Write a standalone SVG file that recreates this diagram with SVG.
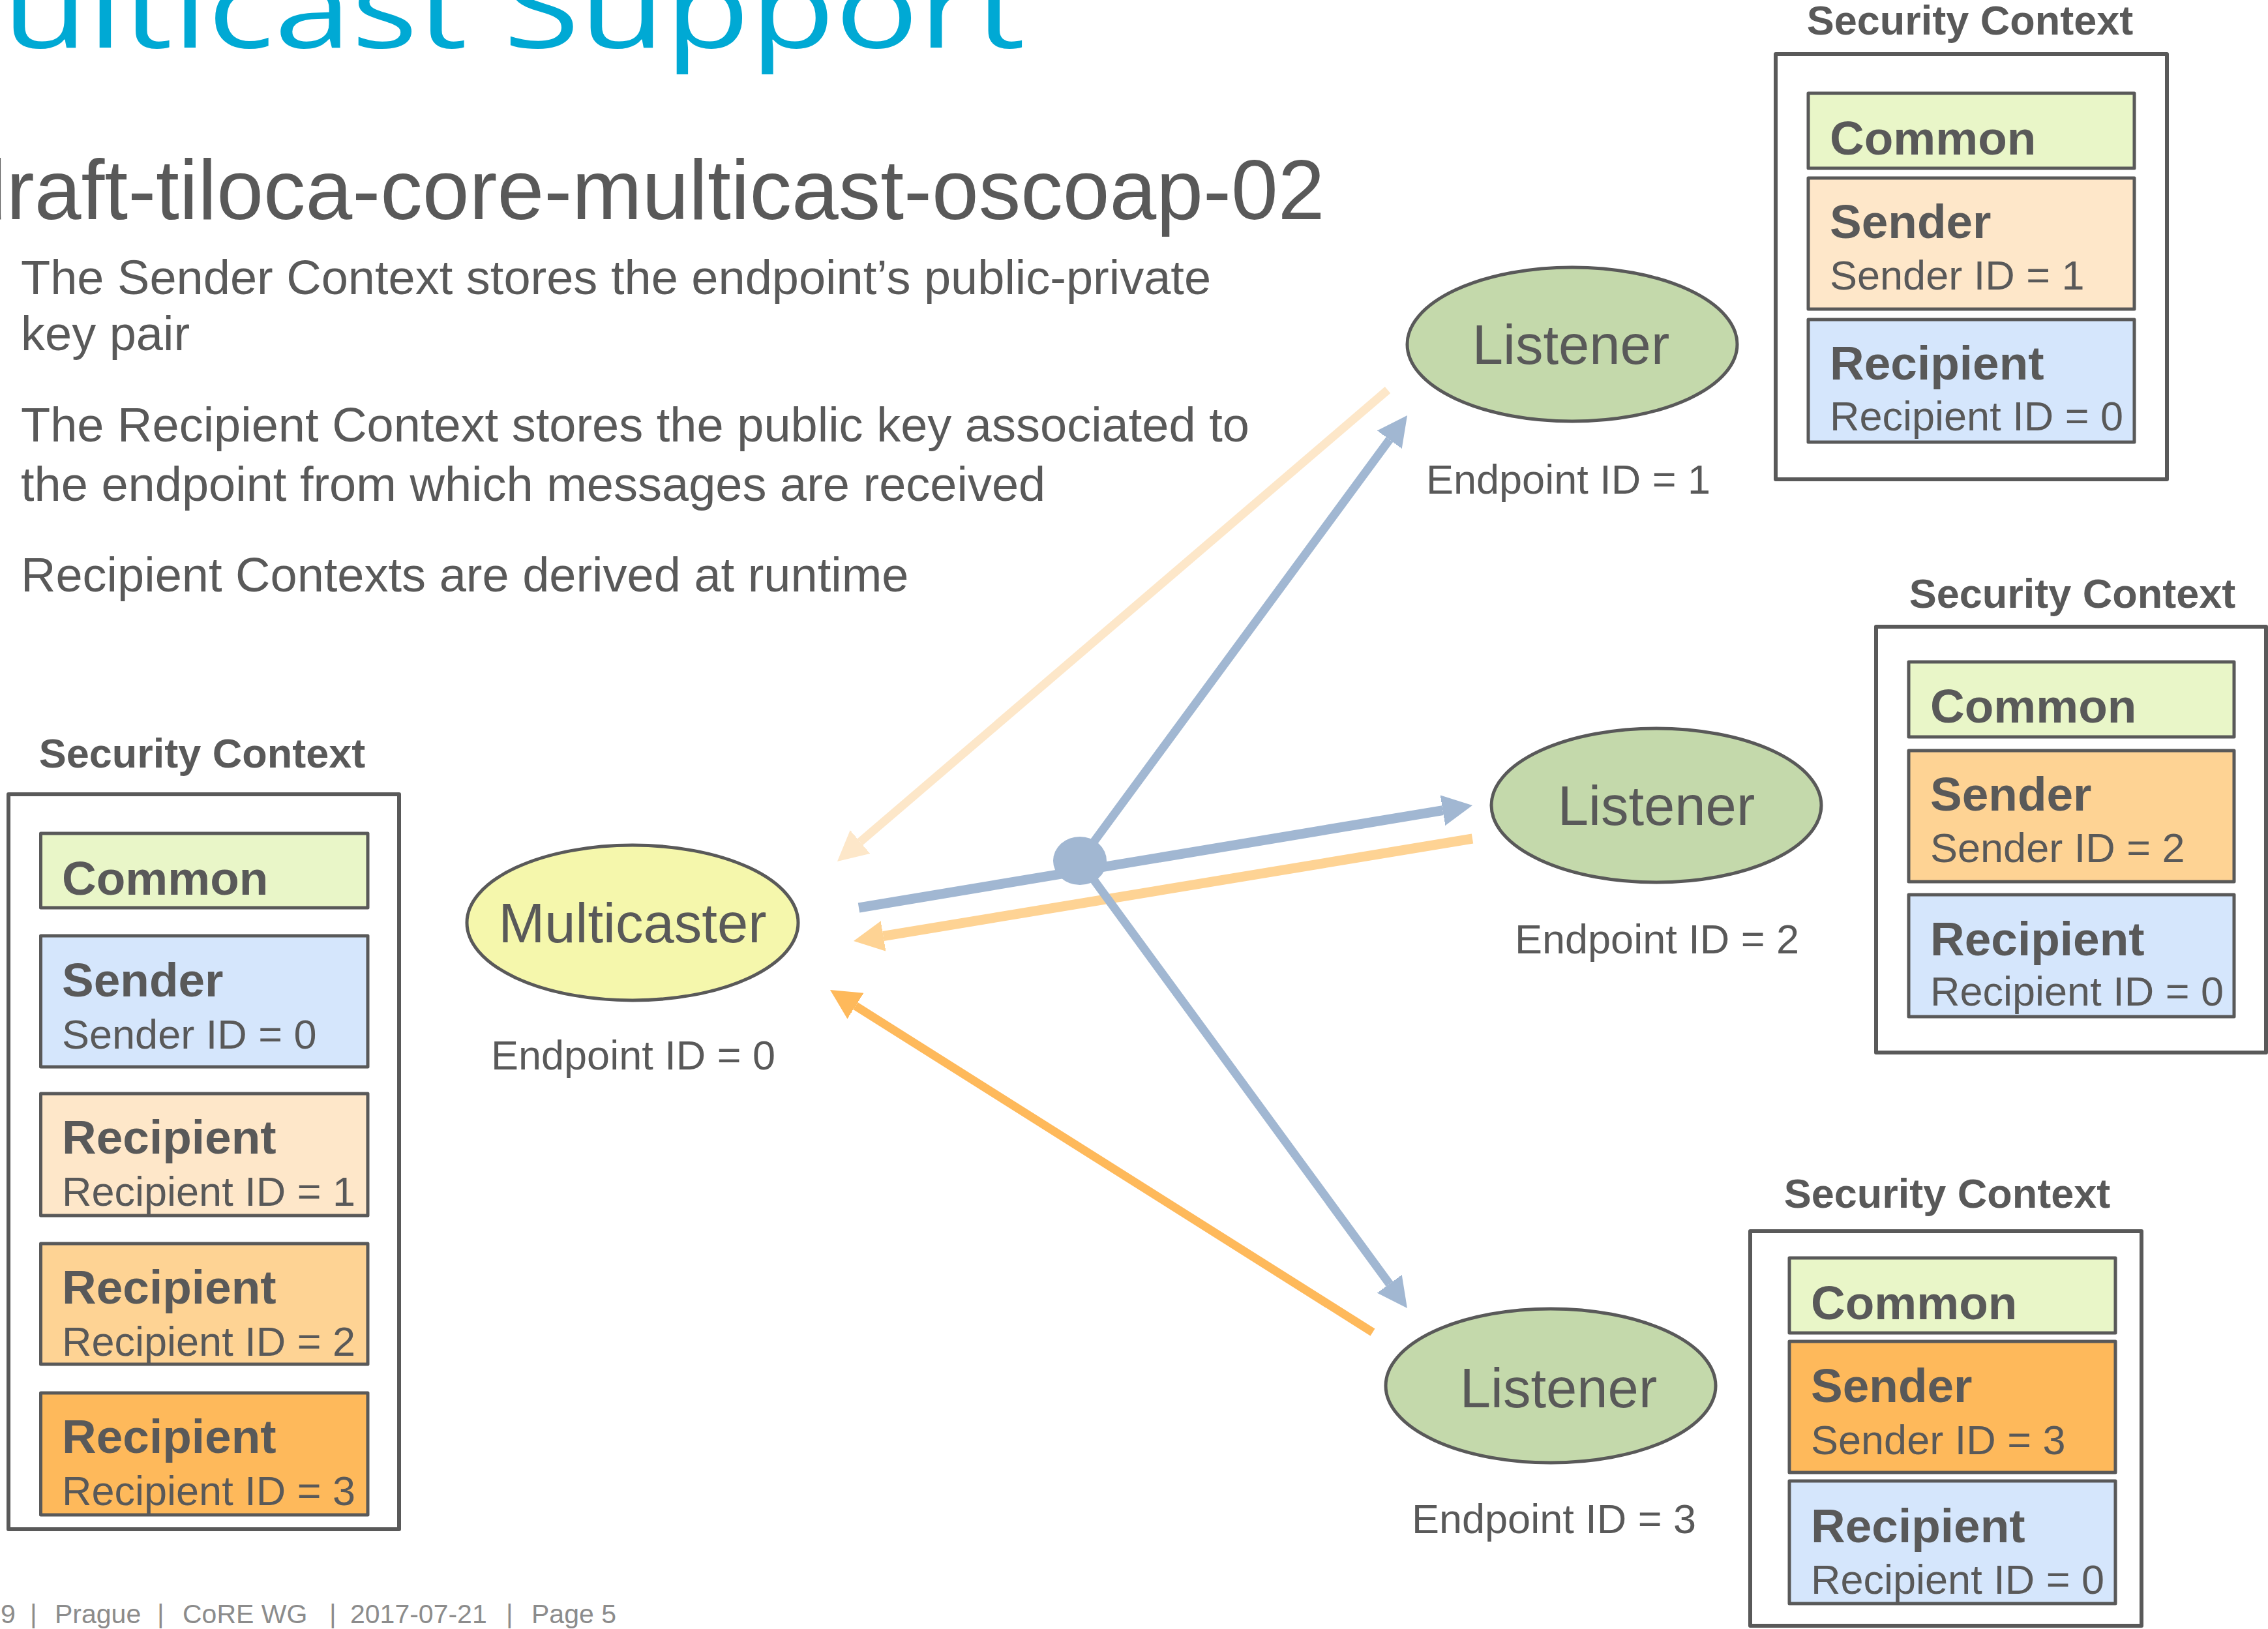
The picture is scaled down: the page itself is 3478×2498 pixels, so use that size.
<svg xmlns="http://www.w3.org/2000/svg" width="3478" height="2498" viewBox="0 0 3478 2498">
<style>
.t{font-family:"Liberation Sans",Arial,Helvetica,sans-serif;fill:#595959}
.title{font-family:"Open Sans",sans-serif;fill:#00A9D4;font-size:170px}
.sub{font-size:129px}
.body{font-size:74px}
.node{stroke:#595959;stroke-width:5}
.lis{fill:#C4D9AB}
.mc{fill:#F5F7AC}
.nl{font-size:85px;text-anchor:middle}
.ep{font-size:63px;text-anchor:middle}
.sct{font-size:63px;font-weight:bold;text-anchor:middle}
.outer{fill:#fff;stroke:#595959;stroke-width:6;stroke-linejoin:round}
.inner{stroke:#595959;stroke-width:5;stroke-linejoin:round}
.cm{fill:#E9F6C8}
.bl{fill:#D5E6FC}
.o1{fill:#FEE7C9}
.o2{fill:#FED394}
.o3{fill:#FEB95B}
.lb{font-size:73px;font-weight:bold}
.id{font-size:63px}
.ft{font-family:"Liberation Sans",Arial,sans-serif;font-size:41px;fill:#8C8C8C}
.c{fill:none;stroke-linecap:butt}
.cb{stroke:#A1B7D2}
.cp{stroke:#FDE7C9}
.cmo{stroke:#FED394}
.cd{stroke:#FEB95B}
</style>
<defs>
<marker id="ab" viewBox="0 -25 50 50" refX="0" refY="0" markerWidth="50" markerHeight="50" markerUnits="userSpaceOnUse" orient="auto"><path d="M-1,-24 L46,0 L-1,24 Z" fill="#A1B7D2"/></marker>
<marker id="ap" viewBox="0 -25 50 50" refX="0" refY="0" markerWidth="50" markerHeight="50" markerUnits="userSpaceOnUse" orient="auto"><path d="M-1,-24 L46,0 L-1,24 Z" fill="#FDE7C9"/></marker>
<marker id="am" viewBox="0 -25 50 50" refX="0" refY="0" markerWidth="50" markerHeight="50" markerUnits="userSpaceOnUse" orient="auto"><path d="M-1,-24 L46,0 L-1,24 Z" fill="#FED394"/></marker>
<marker id="ad" viewBox="0 -25 50 50" refX="0" refY="0" markerWidth="50" markerHeight="50" markerUnits="userSpaceOnUse" orient="auto"><path d="M-1,-24 L46,0 L-1,24 Z" fill="#FEB95B"/></marker>
</defs>
<rect width="3478" height="2498" fill="#fff"/>

<g id="heading">
<text class="title" x="-188" y="73" textLength="1760" lengthAdjust="spacingAndGlyphs">Multicast Support</text>
<text class="t sub" x="-62" y="336">draft-tiloca-core-multicast-oscoap-02</text>
<text class="t body" x="32" y="451">The Sender Context stores the endpoint’s public-private</text>
<text class="t body" x="32" y="537">key pair</text>
<text class="t body" x="32" y="677">The Recipient Context stores the public key associated to</text>
<text class="t body" x="32" y="768">the endpoint from which messages are received</text>
<text class="t body" x="32" y="907">Recipient Contexts are derived at runtime</text>
</g>

<g id="connectors">
<path class="c cp" stroke-width="13" d="M2128,598 L1318.9,1291.1" marker-end="url(#ap)"/>
<path class="c cmo" stroke-width="15" d="M2258,1286 L1354.4,1435.5" marker-end="url(#am)"/>
<path class="c cd" stroke-width="13" d="M2105,2043 L1311.9,1542.5" marker-end="url(#ad)"/>
<path class="c cb" stroke-width="15" d="M1317,1392 L2212.6,1242.6" marker-end="url(#ab)"/>
<path class="c cb" stroke-width="13" d="M1656,1320 L2130.8,674.1" marker-end="url(#ab)"/>
<path class="c cb" stroke-width="13" d="M1656,1320 L2130.8,1968.9" marker-end="url(#ab)"/>
<ellipse cx="1656" cy="1320" rx="41" ry="37" fill="#A1B7D2"/>
</g>

<g id="multicaster">
<ellipse class="node mc" cx="970" cy="1415" rx="254" ry="119"/>
<text class="t nl" x="970" y="1445">Multicaster</text>
<text class="t ep" x="971" y="1640">Endpoint ID = 0</text>
</g>

<g id="listener1">
<ellipse class="node lis" cx="2411" cy="528" rx="253" ry="118"/>
<text class="t nl" x="2409" y="558">Listener</text>
<text class="t ep" x="2405" y="757">Endpoint ID = 1</text>
</g>

<g id="listener2">
<ellipse class="node lis" cx="2540" cy="1235" rx="253" ry="118"/>
<text class="t nl" x="2540" y="1265">Listener</text>
<text class="t ep" x="2541" y="1462">Endpoint ID = 2</text>
</g>

<g id="listener3">
<ellipse class="node lis" cx="2378" cy="2125" rx="253" ry="118"/>
<text class="t nl" x="2390" y="2158">Listener</text>
<text class="t ep" x="2383" y="2351">Endpoint ID = 3</text>
</g>

<g id="security-context-0">
<text class="t sct" x="310" y="1177">Security Context</text>
<rect class="outer" x="13" y="1218" width="599" height="1127"/>
<rect class="inner cm" x="62.5" y="1278" width="501.5" height="114"/>
<text class="t lb" x="95" y="1372">Common</text>
<rect class="inner bl" x="62.5" y="1435" width="501.5" height="201"/>
<text class="t lb" x="95" y="1528">Sender</text>
<text class="t id" x="95" y="1608">Sender ID = 0</text>
<rect class="inner o1" x="62.5" y="1677" width="501.5" height="187"/>
<text class="t lb" x="95" y="1769">Recipient</text>
<text class="t id" x="95" y="1849">Recipient ID = 1</text>
<rect class="inner o2" x="62.5" y="1907" width="501.5" height="185"/>
<text class="t lb" x="95" y="1999">Recipient</text>
<text class="t id" x="95" y="2079">Recipient ID = 2</text>
<rect class="inner o3" x="62.5" y="2136" width="501.5" height="187"/>
<text class="t lb" x="95" y="2228">Recipient</text>
<text class="t id" x="95" y="2308">Recipient ID = 3</text>
</g>

<g id="security-context-1">
<text class="t sct" x="3021" y="53">Security Context</text>
<rect class="outer" x="2723" y="83" width="600" height="652"/>
<rect class="inner cm" x="2773" y="143" width="500" height="115"/>
<text class="t lb" x="2806" y="237">Common</text>
<rect class="inner o1" x="2773" y="273" width="500" height="201"/>
<text class="t lb" x="2806" y="365">Sender</text>
<text class="t id" x="2806" y="444">Sender ID = 1</text>
<rect class="inner bl" x="2773" y="490" width="500" height="188"/>
<text class="t lb" x="2806" y="582">Recipient</text>
<text class="t id" x="2806" y="660">Recipient ID = 0</text>
</g>

<g id="security-context-2">
<text class="t sct" x="3178" y="932">Security Context</text>
<rect class="outer" x="2877" y="961" width="598" height="653"/>
<rect class="inner cm" x="2927" y="1015" width="499" height="115"/>
<text class="t lb" x="2960" y="1108">Common</text>
<rect class="inner o2" x="2927" y="1151" width="499" height="201"/>
<text class="t lb" x="2960" y="1243">Sender</text>
<text class="t id" x="2960" y="1322">Sender ID = 2</text>
<rect class="inner bl" x="2927" y="1372" width="499" height="187"/>
<text class="t lb" x="2960" y="1465">Recipient</text>
<text class="t id" x="2960" y="1542">Recipient ID = 0</text>
</g>

<g id="security-context-3">
<text class="t sct" x="2986" y="1852">Security Context</text>
<rect class="outer" x="2684" y="1888" width="600" height="605"/>
<rect class="inner cm" x="2744" y="1929" width="500" height="115"/>
<text class="t lb" x="2777" y="2023">Common</text>
<rect class="inner o3" x="2744" y="2057" width="500" height="201"/>
<text class="t lb" x="2777" y="2150">Sender</text>
<text class="t id" x="2777" y="2230">Sender ID = 3</text>
<rect class="inner bl" x="2744" y="2271" width="500" height="188"/>
<text class="t lb" x="2777" y="2365">Recipient</text>
<text class="t id" x="2777" y="2444">Recipient ID = 0</text>
</g>

<g id="footer">
<text class="ft" y="2489"><tspan x="1">9</tspan><tspan x="46">|</tspan><tspan x="84">Prague</tspan><tspan x="241">|</tspan><tspan x="280">CoRE WG</tspan><tspan x="505">|</tspan><tspan x="537">2017-07-21</tspan><tspan x="776">|</tspan><tspan x="815">Page 5</tspan></text>
</g>
</svg>
